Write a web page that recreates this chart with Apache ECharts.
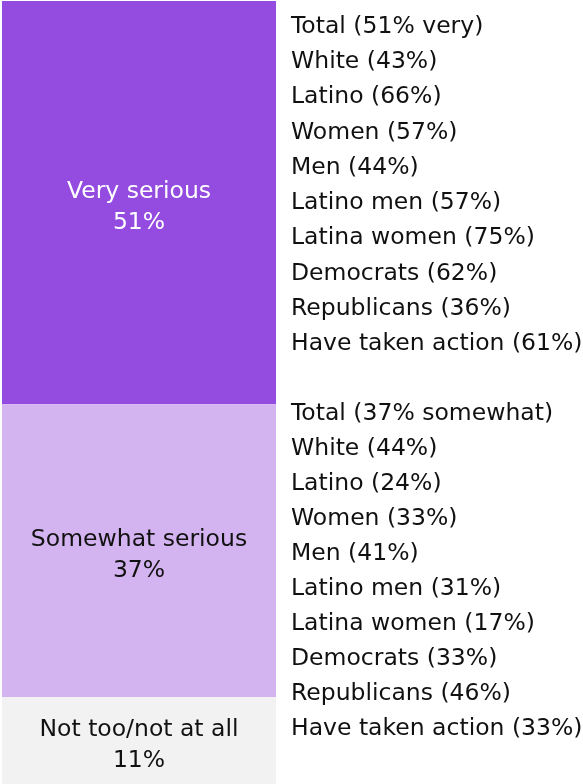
<!DOCTYPE html>
<html>
<head>
<meta charset="utf-8">
<script src="https://cdn.jsdelivr.net/npm/echarts@6/dist/echarts.min.js"></script>
<style>html,body{margin:0;padding:0;background:#fff;}#c{width:583px;height:784px;}</style>
</head>
<body>
<div id="c"></div>
<script>
var seriesNames = ['Very serious', 'Somewhat serious', 'Not too/not at all'];
var seriesValues = [51, 37, 11];
var veryLines = ['Total (51% very)', 'White (43%)', 'Latino (66%)', 'Women (57%)', 'Men (44%)', 'Latino men (57%)', 'Latina women (75%)', 'Democrats (62%)', 'Republicans (36%)', 'Have taken action (61%)'];
var somewhatLines = ['Total (37% somewhat)', 'White (44%)', 'Latino (24%)', 'Women (33%)', 'Men (41%)', 'Latino men (31%)', 'Latina women (17%)', 'Democrats (33%)', 'Republicans (46%)', 'Have taken action (33%)'];

var colors = ['#944BDF', '#D4B3F1', '#F2F2F2'];
var labelColors = ['#ffffff', '#111111', '#111111'];
var FONT = 'DejaVu Sans';
var FS = 23.5;

var chart = echarts.init(document.getElementById('c'));
var series = seriesNames.map(function (n, i) {
  return {
    name: n, type: 'bar', stack: 'all', barWidth: '100%',
    data: [seriesValues[i]],
    itemStyle: { color: colors[i] },
    label: {
      show: true, position: 'inside', offset: [0, 5],
      formatter: function (p) { return p.seriesName + '\n' + p.value + '%'; },
      color: labelColors[i], fontFamily: FONT, fontSize: FS, lineHeight: 31
    }
  };
});

var graphics = [];
function addLines(lines, y0, step) {
  lines.forEach(function (t, k) {
    graphics.push({
      type: 'text', left: 291, top: y0 + k * step,
      style: { text: t, fontFamily: FONT, fontSize: FS, fill: '#111111' }
    });
  });
}
addLines(veryLines, 14.5, 35.3);
addLines(somewhatLines, 401.5, 35);

chart.setOption({
  animation: false,
  grid: { left: 2, right: 307, top: 1, bottom: 0 },
  xAxis: { type: 'category', data: [''], show: false },
  yAxis: { type: 'value', min: 0, max: 99, inverse: true, show: false },
  series: series,
  graphic: graphics
});
</script>
</body>
</html>
